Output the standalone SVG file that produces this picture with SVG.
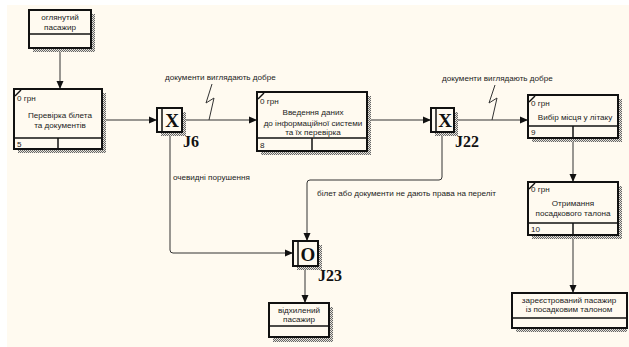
<svg xmlns="http://www.w3.org/2000/svg" width="629" height="347" viewBox="0 0 629 347">
<defs>
<pattern id="hatch" width="2" height="2" patternUnits="userSpaceOnUse">
<rect width="2" height="2" fill="#e8e4dc"/>
<rect width="1" height="1" fill="#666"/>
<rect x="1" y="1" width="1" height="1" fill="#666"/>
</pattern>
<marker id="arr" viewBox="0 0 8 8" refX="8" refY="4" markerWidth="8" markerHeight="8" markerUnits="userSpaceOnUse" orient="auto">
<path d="M0,0.5 L8,4 L0,7.5 Z" fill="#111"/>
</marker>
</defs>
<style>
.bg{fill:#fffaf0}
.shadow{fill:url(#hatch)}
.box{fill:#fffaf0;stroke:#111;stroke-width:2}
.div{stroke:#111;stroke-width:1.5;fill:none}
.tick{stroke:#111;stroke-width:1.5}
.t{font-family:"Liberation Sans",Arial,sans-serif;font-size:8.1px;fill:#222}
.c{text-anchor:middle}
.jl{font-family:"Liberation Serif","Times New Roman",serif;font-size:16px;font-weight:bold;fill:#111}
.jx{font-family:"Liberation Serif","Times New Roman",serif;font-size:19px;font-weight:bold;fill:#111;text-anchor:middle}
.ln{stroke:#333;stroke-width:1;fill:none}
</style>
<rect x="0" y="0" width="629" height="347" fill="#ffffff"/>
<rect class="bg" x="7" y="5" width="622" height="342"/>

<g id="connectors">
<path class="ln" d="M60,48 V89" marker-end="url(#arr)"/>
<path class="ln" d="M102,120 H157" marker-end="url(#arr)"/>
<path class="ln" d="M182,120 H257" marker-end="url(#arr)"/>
<path class="ln" d="M367,120 H431" marker-end="url(#arr)"/>
<path class="ln" d="M454,120 H528" marker-end="url(#arr)"/>
<path class="ln" d="M573,138 V182" marker-end="url(#arr)"/>
<path class="ln" d="M573,235 V293" marker-end="url(#arr)"/>
<path class="ln" d="M170,132 V250 Q170,253 173,253 H293" marker-end="url(#arr)"/>
<path class="ln" d="M442,132 V177 Q442,180 439,180 H310 Q307,180 307,183 V241" marker-end="url(#arr)"/>
<path class="ln" d="M305,266 V303" marker-end="url(#arr)"/>
<polyline class="ln" points="212,84 206,103 214,98 209,120"/>
<polyline class="ln" points="495,85 489,103 497,98 492,120"/>
<text class="t" x="165" y="80">документи виглядають добре</text>
<text class="t" x="442" y="81">документи виглядають добре</text>
<text class="t" x="173" y="180">очевидні порушення</text>
<text class="t" x="317" y="196">білет або документи не дають права на переліт</text>
</g>

<g id="node-ohlyanutyi">
<rect class="shadow" x="33" y="14" width="62" height="38"/>
<rect class="box" x="29" y="10" width="62" height="38"/>
<line class="div" x1="29" y1="34" x2="91" y2="34"/>
<text class="t c" x="60" y="20">оглянутий</text>
<text class="t c" x="60" y="30">пасажир</text>
</g>

<g id="node-5">
<rect class="shadow" x="18" y="93" width="88" height="60"/>
<rect class="box" x="14" y="89" width="88" height="60"/>
<line class="div" x1="14" y1="138" x2="102" y2="138"/>
<line class="div" x1="58" y1="138" x2="58" y2="149"/>
<line class="tick" x1="15" y1="96" x2="21" y2="90"/>
<text class="t" x="17" y="101">0 грн</text>
<text class="t c" x="60" y="118">Перевірка білета</text>
<text class="t c" x="60" y="128">та документів</text>
<text class="t" x="17" y="147">5</text>
</g>

<g id="J6">
<rect class="shadow" x="161" y="112" width="25" height="24"/>
<rect class="box" x="157" y="108" width="25" height="24"/>
<line class="div" x1="162" y1="108" x2="162" y2="132"/>
<text class="jx" x="172" y="127">X</text>
<text class="jl" x="183" y="147">J6</text>
</g>

<g id="node-8">
<rect class="shadow" x="261" y="96" width="110" height="59"/>
<rect class="box" x="257" y="92" width="110" height="59"/>
<line class="div" x1="257" y1="138" x2="367" y2="138"/>
<line class="div" x1="312" y1="138" x2="312" y2="151"/>
<line class="tick" x1="258" y1="99" x2="264" y2="93"/>
<text class="t" x="260" y="104">0 грн</text>
<text class="t c" x="313" y="115">Введення даних</text>
<text class="t c" x="313" y="126">до інформаційної системи</text>
<text class="t c" x="313" y="135">та їх перевірка</text>
<text class="t" x="260" y="148">8</text>
</g>

<g id="J22">
<rect class="shadow" x="435" y="112" width="23" height="24"/>
<rect class="box" x="431" y="108" width="23" height="24"/>
<line class="div" x1="436" y1="108" x2="436" y2="132"/>
<text class="jx" x="445" y="127">X</text>
<text class="jl" x="455" y="147">J22</text>
</g>

<g id="node-9">
<rect class="shadow" x="532" y="99" width="90" height="43"/>
<rect class="box" x="528" y="95" width="90" height="43"/>
<line class="div" x1="528" y1="126" x2="618" y2="126"/>
<line class="div" x1="573" y1="126" x2="573" y2="138"/>
<line class="tick" x1="529" y1="102" x2="535" y2="96"/>
<text class="t" x="531" y="106">0 грн</text>
<text class="t c" x="575" y="120">Вибір місця у літаку</text>
<text class="t" x="531" y="135">9</text>
</g>

<g id="node-10">
<rect class="shadow" x="532" y="186" width="90" height="53"/>
<rect class="box" x="528" y="182" width="90" height="53"/>
<line class="div" x1="528" y1="223" x2="618" y2="223"/>
<line class="div" x1="573" y1="223" x2="573" y2="235"/>
<line class="tick" x1="529" y1="189" x2="535" y2="183"/>
<text class="t" x="531" y="192">0 грн</text>
<text class="t c" x="573" y="206">Отримання</text>
<text class="t c" x="573" y="216">посадкового талона</text>
<text class="t" x="531" y="232">10</text>
</g>

<g id="node-zareestrovanyi">
<rect class="shadow" x="516" y="297" width="111" height="35"/>
<rect class="box" x="512" y="293" width="115" height="35"/>
<line class="div" x1="512" y1="318" x2="627" y2="318"/>
<text class="t c" x="569" y="303">зареєстрований пасажир</text>
<text class="t c" x="569" y="312">із посадковим талоном</text>
</g>

<g id="J23">
<rect class="shadow" x="297" y="245" width="25" height="25"/>
<rect class="box" x="293" y="241" width="25" height="25"/>
<line class="div" x1="298" y1="241" x2="298" y2="266"/>
<text class="jx" x="308" y="261">O</text>
<text class="jl" x="318" y="281">J23</text>
</g>

<g id="node-vidkhylenyi">
<rect class="shadow" x="273" y="307" width="60" height="35"/>
<rect class="box" x="269" y="303" width="60" height="34"/>
<line class="div" x1="269" y1="326" x2="329" y2="326"/>
<text class="t c" x="299" y="313">відхилений</text>
<text class="t c" x="299" y="322">пасажир</text>
</g>
</svg>
